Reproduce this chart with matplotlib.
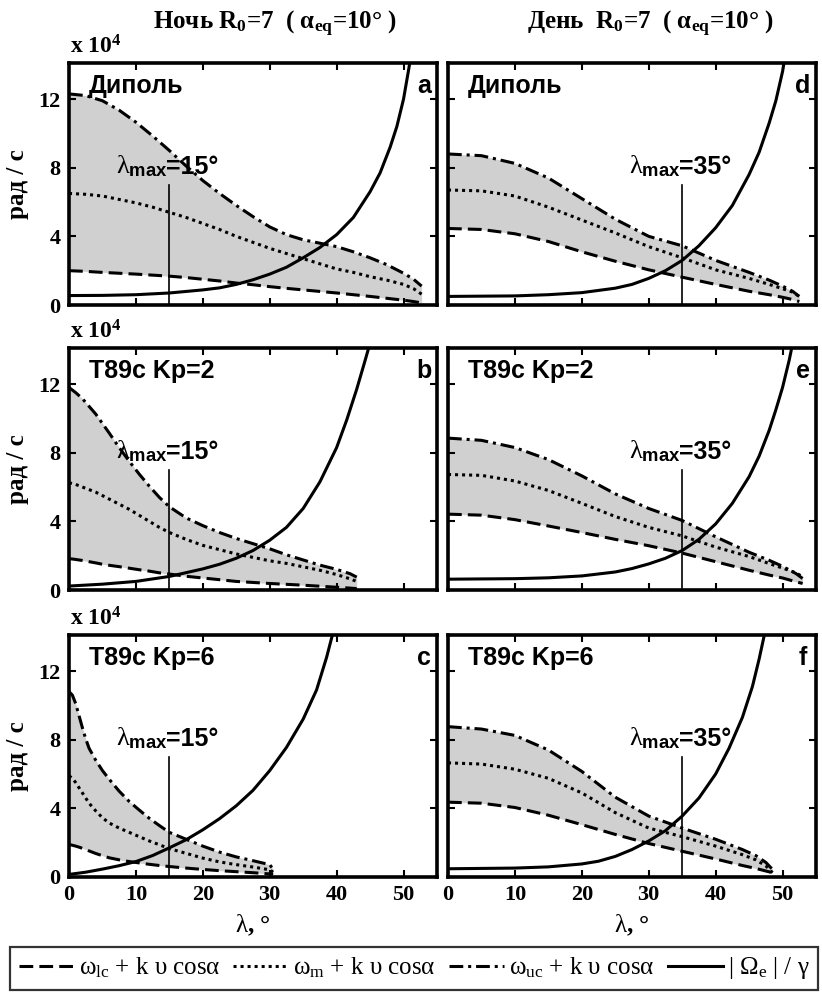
import matplotlib
matplotlib.use("Agg")
import matplotlib.pyplot as plt
from matplotlib.lines import Line2D

plt.rcParams.update({
    "font.family": ["Liberation Serif", "DejaVu Sans"],
    "mathtext.fontset": "custom",
    "mathtext.rm": "Liberation Serif",
    "mathtext.it": "Liberation Serif",
    "mathtext.bf": "Liberation Serif:bold",
    "mathtext.sf": "Liberation Sans:bold",
    "mathtext.tt": "Liberation Serif",
})

# ---- frequencies, units of 1e4 rad/s, versus latitude (deg) ----
# Panel a: night, dipole
lam_a = [0, 2.5, 5, 7.5, 10, 12.5, 15, 17.5, 20, 22.5, 25, 27.5, 30, 32.5, 35,
         37.5, 40, 42.5, 45, 47.5, 50, 51.5, 52.7]
uc_a = [12.3, 12.2, 11.9, 11.35, 10.65, 9.85, 9.0, 8.1, 7.25, 6.5, 5.8, 5.15,
        4.55, 4.1, 3.8, 3.6, 3.4, 3.1, 2.75, 2.35, 1.85, 1.5, 1.1]
m_a = [6.5, 6.45, 6.35, 6.15, 5.95, 5.7, 5.4, 5.1, 4.75, 4.4, 4.0, 3.65, 3.3,
       3.0, 2.7, 2.4, 2.1, 1.9, 1.65, 1.45, 1.2, 0.95, 0.63]
lc_a = [2.0, 1.96, 1.9, 1.85, 1.8, 1.74, 1.68, 1.6, 1.5, 1.4, 1.28, 1.18, 1.07,
        0.97, 0.88, 0.79, 0.7, 0.6, 0.5, 0.39, 0.28, 0.2, 0.12]
lam_ce_a = [0, 5, 10, 15, 20, 22.5, 25, 27.5, 30, 32.5, 35, 37.5, 40, 42.5, 45,
            46.5, 48, 49, 50, 50.8, 51.5]
ce_a = [0.55, 0.56, 0.6, 0.7, 0.88, 1.0, 1.2, 1.47, 1.8, 2.2, 2.75, 3.35, 4.1,
        5.1, 6.6, 7.7, 9.2, 10.4, 12.0, 13.8, 15.5]

# Panel b: night, T89c Kp=2
lam_b = [0, 1, 2, 3, 4, 5, 6, 7.5, 9, 10.5, 12, 13.5, 15, 17.5, 20, 22.5, 25,
         27.5, 30, 32.5, 35, 37.5, 40, 42, 43]
uc_b = [11.8, 11.5, 11.15, 10.7, 10.25, 9.7, 9.15, 8.3, 7.5, 6.75, 6.05, 5.4,
        4.85, 4.2, 3.75, 3.35, 3.0, 2.7, 2.4, 2.05, 1.75, 1.45, 1.2, 0.95, 0.75]
m_b = [6.25, 6.15, 6.0, 5.85, 5.7, 5.5, 5.3, 5.0, 4.7, 4.35, 4.0, 3.65, 3.35,
       2.95, 2.6, 2.35, 2.1, 1.9, 1.7, 1.55, 1.35, 1.15, 0.9, 0.65, 0.5]
lc_b = [1.83, 1.78, 1.72, 1.65, 1.58, 1.5, 1.44, 1.36, 1.27, 1.18, 1.1, 1.0,
        0.93, 0.8, 0.7, 0.6, 0.5, 0.44, 0.38, 0.33, 0.28, 0.22, 0.16, 0.11, 0.08]
lam_ce_b = [0, 5, 10, 15, 20, 22.5, 25, 27.5, 30, 32.5, 35, 37.5, 40, 41.5, 43,
            44.2, 45.3, 46]
ce_b = [0.23, 0.34, 0.5, 0.79, 1.23, 1.5, 1.85, 2.3, 2.9, 3.65, 4.75, 6.3, 8.3,
        9.9, 11.7, 13.3, 14.8, 15.8]

# Panel c: night, T89c Kp=6
lam_c = [0, 0.5, 1, 1.5, 2, 2.5, 3, 4, 5, 6, 7.5, 9, 10.5, 12, 13.5, 15, 17.5,
         20, 22.5, 25, 27.5, 30, 30.5]
uc_c = [10.8, 10.6, 10.1, 9.4, 8.7, 8.05, 7.5, 6.8, 6.2, 5.7, 5.0, 4.4, 3.9,
        3.42, 3.0, 2.6, 2.2, 1.8, 1.45, 1.17, 0.95, 0.72, 0.45]
m_c = [5.9, 5.75, 5.5, 5.2, 4.9, 4.6, 4.3, 3.85, 3.45, 3.15, 2.85, 2.6, 2.35,
       2.1, 1.88, 1.65, 1.38, 1.1, 0.88, 0.72, 0.58, 0.42, 0.28]
lc_c = [1.9, 1.85, 1.8, 1.74, 1.67, 1.6, 1.52, 1.37, 1.24, 1.12, 1.0, 0.9, 0.82,
        0.74, 0.67, 0.61, 0.52, 0.44, 0.37, 0.31, 0.25, 0.18, 0.15]
lam_ce_c = [0, 2.5, 5, 7.5, 10, 12.5, 15, 17.5, 20, 22.5, 25, 27.5, 30, 32.5,
            35, 37, 38.5, 39.5, 40]
ce_c = [0.15, 0.28, 0.46, 0.66, 0.9, 1.25, 1.7, 2.17, 2.75, 3.4, 4.15, 5.05,
        6.2, 7.55, 9.2, 10.9, 12.8, 14.3, 15.2]

# Panel d: day, dipole
lam_d = [0, 5, 10, 15, 20, 25, 30, 35, 40, 45, 48, 50, 51.5, 52.5]
uc_d = [8.8, 8.7, 8.25, 7.4, 6.2, 5.0, 4.0, 3.45, 2.6, 1.9, 1.45, 1.1, 0.8, 0.5]
m_d = [6.7, 6.65, 6.35, 5.7, 4.95, 4.2, 3.4, 2.75, 2.05, 1.55, 1.2, 0.95, 0.75,
       0.5]
lc_d = [4.46, 4.4, 4.15, 3.7, 3.1, 2.55, 2.05, 1.62, 1.2, 0.8, 0.6, 0.45, 0.32,
        0.2]
lam_ce_d = [0, 10, 15, 20, 25, 27.5, 30, 32.5, 35, 37.5, 40, 42.5, 45, 46.5,
            48, 49, 50, 50.6]
ce_d = [0.5, 0.53, 0.6, 0.72, 0.98, 1.2, 1.55, 2.0, 2.6, 3.45, 4.5, 5.8, 7.6,
        8.9, 10.6, 11.9, 13.6, 15.0]

# Panel e: day, T89c Kp=2
lam_e = [0, 5, 10, 15, 20, 25, 30, 35, 40, 45, 48, 50, 52, 53]
uc_e = [8.85, 8.72, 8.3, 7.6, 6.65, 5.6, 4.75, 4.05, 3.1, 2.2, 1.73, 1.38, 0.96,
        0.67]
m_e = [6.73, 6.68, 6.35, 5.8, 5.05, 4.28, 3.65, 3.15, 2.5, 1.95, 1.54, 1.28,
       1.0, 0.77]
lc_e = [4.42, 4.36, 4.1, 3.73, 3.35, 2.95, 2.58, 2.15, 1.65, 1.15, 0.87, 0.7,
        0.48, 0.38]
lam_ce_e = [0, 10, 15, 20, 25, 27.5, 30, 32.5, 35, 37.5, 40, 42.5, 45, 46.5,
            48, 49, 50, 51, 52]
ce_e = [0.63, 0.66, 0.71, 0.82, 1.05, 1.25, 1.52, 1.85, 2.3, 2.95, 3.85, 5.05,
        6.6, 7.8, 9.3, 10.5, 11.8, 13.4, 15.3]

# Panel f: day, T89c Kp=6
lam_f = [0, 5, 10, 15, 20, 25, 30, 35, 40, 44, 46, 47.5, 48.5]
uc_f = [8.76, 8.62, 8.25, 7.4, 6.15, 4.65, 3.55, 2.85, 2.2, 1.6, 1.25, 0.85,
        0.44]
m_f = [6.65, 6.58, 6.28, 5.75, 4.9, 3.75, 2.85, 2.35, 1.8, 1.3, 1.0, 0.65, 0.25]
lc_f = [4.36, 4.3, 4.05, 3.6, 3.05, 2.48, 1.95, 1.5, 1.05, 0.67, 0.5, 0.35,
        0.25]
lam_ce_f = [0, 10, 15, 20, 22.5, 25, 27.5, 30, 32.5, 35, 37.5, 40, 42, 44, 45.5,
            46.5, 47.5, 48]
ce_f = [0.48, 0.52, 0.59, 0.76, 0.92, 1.2, 1.6, 2.1, 2.7, 3.55, 4.6, 6.0, 7.5,
        9.3, 11.1, 12.7, 14.5, 15.5]

lam_max = [15, 15, 15, 35, 35, 35]
models = ["Диполь", "T89c Kp=2", "T89c Kp=6", "Диполь", "T89c Kp=2", "T89c Kp=6"]
letters = ["a", "b", "c", "d", "e", "f"]
col_titles = ["Ночь R$_{\\mathbf{0}}$=7  ( α$_{\\mathbf{eq}}$=10° )",
              "День  R$_{\\mathbf{0}}$=7  ( α$_{\\mathbf{eq}}$=10° )"]
xticks = [0, 10, 20, 30, 40, 50]
yticks = [0, 4, 8, 12]

panels = [
    (lam_a, lc_a, m_a, uc_a, lam_ce_a, ce_a),
    (lam_b, lc_b, m_b, uc_b, lam_ce_b, ce_b),
    (lam_c, lc_c, m_c, uc_c, lam_ce_c, ce_c),
    (lam_d, lc_d, m_d, uc_d, lam_ce_d, ce_d),
    (lam_e, lc_e, m_e, uc_e, lam_ce_e, ce_e),
    (lam_f, lc_f, m_f, uc_f, lam_ce_f, ce_f),
]

LS_LC = (0, (4.5, 2.0))
LS_M = (0, (1.0, 1.3))
LS_UC = (0, (4.5, 1.6, 1.0, 1.6))
LW = 2.2
FILL = "#d0d0d0"

W, H = 822, 994
fig = plt.figure(figsize=(W / 100, H / 100), dpi=100)

col_left = [69, 448]
row_bottom = [305, 590, 877]
ax_w, ax_h = 368, 242

serif_bold = dict(family="Liberation Serif", weight="bold")
sans_bold = dict(family="Liberation Sans", weight="bold")

for i, (lam, lc, m, uc, lam_ce, ce) in enumerate(panels):
    col, row = divmod(i, 3)
    x0 = col_left[col] / W
    y0 = 1 - row_bottom[row] / H
    ax = fig.add_axes([x0, y0, ax_w / W, ax_h / H])

    ax.fill_between(lam, lc, uc, color=FILL, lw=0, zorder=1)
    ax.plot(lam, lc, color="k", lw=LW, ls=LS_LC, zorder=3)
    ax.plot(lam, m, color="k", lw=LW, ls=LS_M, zorder=3)
    ax.plot(lam, uc, color="k", lw=LW, ls=LS_UC, zorder=3)
    ax.plot(lam_ce, ce, color="k", lw=LW, ls="-", zorder=4)

    lm = lam_max[i]
    ax.plot([lm, lm], [0, 7.0], color="k", lw=1.2, zorder=5)
    ax.text(lm - 0.3, 7.65, r"$\lambda_{\mathsf{max}}$", fontsize=19,
            ha="right", va="baseline", zorder=6)
    ax.text(lm - 0.5, 7.65, f"={lm}°", fontsize=18, ha="left",
            va="baseline", zorder=6, **sans_bold)

    ax.text(0.055, 0.905, models[i], transform=ax.transAxes, fontsize=18,
            ha="left", va="center", **sans_bold)
    ax.text(0.965, 0.905, letters[i], transform=ax.transAxes, fontsize=18,
            ha="center", va="center", **sans_bold)

    ax.set_xlim(0, 55)
    ax.set_ylim(0, 14.1)
    ax.set_xticks(xticks)
    ax.set_yticks(yticks)
    ax.tick_params(direction="in", top=True, right=True, length=5, width=1.5,
                   labelsize=16, pad=6)
    for lab in ax.get_xticklabels() + ax.get_yticklabels():
        lab.set_fontfamily("Liberation Serif")
        lab.set_fontweight("bold")
    for sp in ax.spines.values():
        sp.set_linewidth(2.6)

    if row < 2:
        ax.tick_params(labelbottom=False)
    else:
        ax.set_xlabel(r"$\lambda$, °", fontsize=18, labelpad=5, **serif_bold)
    if col == 1:
        ax.tick_params(labelleft=False)
    else:
        ax.set_ylabel("рад / с", fontsize=18, labelpad=7, **serif_bold)
        fig.text(70 / W, 1 - (row_bottom[row] - ax_h - 16) / H,
                 r"x 10$^{\mathbf{4}}$", fontsize=17, ha="left", va="center",
                 **serif_bold)

# column headers
fig.text(275 / W, 1 - 24 / H, col_titles[0], fontsize=18, ha="center",
         va="center", **serif_bold)
fig.text(650 / W, 1 - 24 / H, col_titles[1], fontsize=18, ha="center",
         va="center", **serif_bold)

# legend across the bottom
handles = [
    Line2D([], [], color="k", lw=LW, ls=LS_LC),
    Line2D([], [], color="k", lw=LW, ls=LS_M),
    Line2D([], [], color="k", lw=LW, ls=LS_UC),
    Line2D([], [], color="k", lw=LW, ls="-"),
]
labels = [
    r"$\omega_{\mathtt{lc}}$ + k υ cosα",
    r"$\omega_{\mathtt{m}}$ + k υ cosα",
    r"$\omega_{\mathtt{uc}}$ + k υ cosα",
    r"| $\Omega_{\mathtt{e}}$ | / $\gamma$",
]
leg = fig.legend(handles, labels, loc="lower left", ncol=4, mode="expand",
                 bbox_to_anchor=(10 / W, 4 / H, 808 / W, 44 / H),
                 borderaxespad=0, frameon=True, fancybox=False,
                 handlelength=2.2, handletextpad=0.2, columnspacing=0.5,
                 borderpad=0.35,
                 prop=dict(family="Liberation Serif", size=18))
leg.get_frame().set_edgecolor("k")
leg.get_frame().set_linewidth(1.6)

fig.savefig("out.png", dpi=100)
